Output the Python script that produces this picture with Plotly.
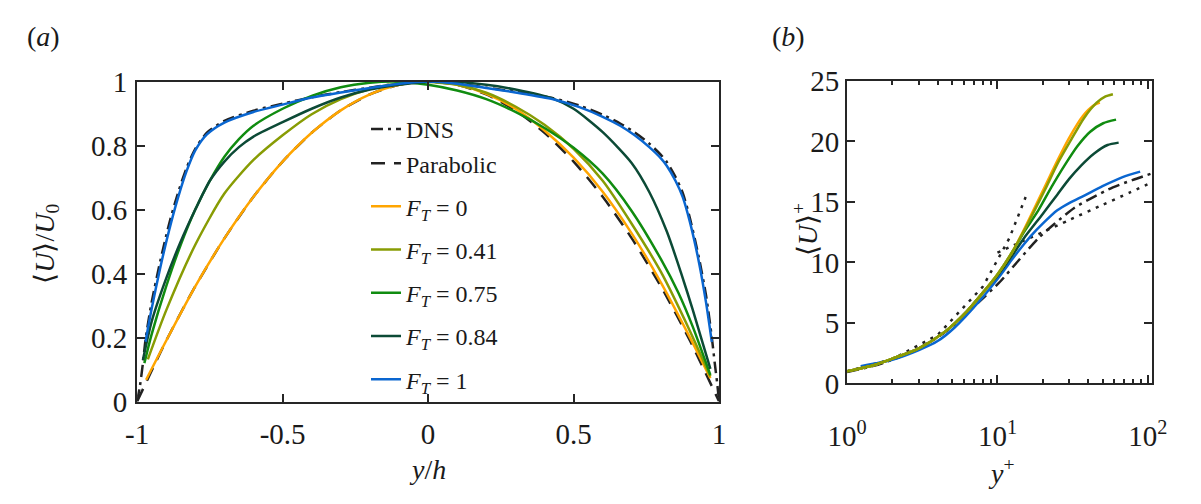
import plotly.graph_objects as go

# ---------------- Panel (a) data: <U>/U0 vs y/h ----------------
dns_y = [-1, -0.99, -0.98, -0.97, -0.95, -0.92, -0.89, -0.86, -0.83, -0.8, -0.76, -0.7, -0.6, -0.5, -0.4,
         -0.3, -0.2, -0.1, 0, 0.1, 0.2, 0.3, 0.43, 0.52, 0.6, 0.66, 0.71, 0.76, 0.8, 0.82, 0.85, 0.875,
         0.9, 0.93, 0.955, 0.975, 0.985, 0.993, 1]
dns_u = [0, 0.05, 0.12, 0.2, 0.31, 0.44, 0.555, 0.65, 0.73, 0.79, 0.84, 0.877, 0.909, 0.931, 0.951,
         0.967, 0.981, 0.994, 1.0, 0.994, 0.981, 0.968, 0.948, 0.925, 0.896, 0.869, 0.841, 0.806, 0.771,
         0.749, 0.702, 0.652, 0.572, 0.452, 0.332, 0.2, 0.12, 0.06, 0]

par_y = [-1, -0.9, -0.8, -0.7, -0.6, -0.5, -0.4, -0.3, -0.2, -0.1, 0, 0.1, 0.2, 0.3, 0.4, 0.5, 0.6, 0.7,
         0.8, 0.9, 1]
par_u = [0, 0.19, 0.36, 0.51, 0.64, 0.75, 0.84, 0.91, 0.96, 0.99, 1.0, 0.99, 0.96, 0.91, 0.84, 0.75, 0.64,
         0.51, 0.36, 0.19, 0]

f0_y = [-0.969, -0.9, -0.8, -0.7, -0.6, -0.5, -0.4, -0.3, -0.2, -0.1, 0, 0.1, 0.2, 0.3, 0.4, 0.5, 0.6,
        0.7, 0.8, 0.9, 0.97]
f0_u = [0.068, 0.19, 0.36, 0.51, 0.64, 0.75, 0.84, 0.91, 0.96, 0.99, 1.0, 0.99, 0.962, 0.915, 0.847,
        0.762, 0.656, 0.525, 0.372, 0.2, 0.073]

f41_y = [-0.963, -0.9, -0.8, -0.7, -0.6, -0.5, -0.4, -0.3, -0.2, -0.1, -0.02, 0.1, 0.2, 0.3,
         0.4, 0.5, 0.6, 0.7, 0.8, 0.9, 0.97]
f41_u = [0.132, 0.285, 0.49, 0.65, 0.755, 0.832, 0.898, 0.945, 0.977, 0.995, 1.0, 0.99, 0.965,
         0.922, 0.865, 0.79, 0.69, 0.555, 0.405, 0.22, 0.078]

f75_y = [-0.975, -0.95, -0.9, -0.85, -0.8, -0.75, -0.7, -0.65, -0.6, -0.5, -0.4, -0.3, -0.2, -0.12,
         0, 0.1, 0.2, 0.3, 0.4, 0.5, 0.6, 0.7, 0.8, 0.86, 0.909, 0.97]
f75_u = [0.12, 0.21, 0.36, 0.49, 0.6, 0.69, 0.765, 0.82, 0.862, 0.915, 0.955, 0.982, 0.996, 1.0,
         0.99, 0.972, 0.945, 0.905, 0.855, 0.793, 0.712, 0.595, 0.445, 0.34, 0.235, 0.083]

f84_y = [-0.98, -0.95, -0.9, -0.85, -0.8, -0.75, -0.7, -0.65, -0.6, -0.5, -0.4, -0.3, -0.2, -0.1, 0.05,
         0.2, 0.3, 0.431, 0.5, 0.6, 0.7, 0.76, 0.82, 0.87, 0.909, 0.97]
f84_u = [0.13, 0.25, 0.385, 0.5, 0.6, 0.69, 0.75, 0.795, 0.828, 0.873, 0.915, 0.95, 0.975, 0.99, 1.0,
         0.99, 0.975, 0.946, 0.915, 0.842, 0.745, 0.655, 0.532, 0.4, 0.288, 0.102]

f1_y = [-0.971, -0.95, -0.92, -0.89, -0.86, -0.83, -0.8, -0.76, -0.7, -0.6, -0.5, -0.4, -0.3, -0.2,
        -0.1, 0, 0.1, 0.2, 0.3, 0.43, 0.52, 0.6, 0.66, 0.71, 0.76, 0.8, 0.82, 0.85, 0.875, 0.9, 0.931,
        0.955, 0.975]
f1_u = [0.187, 0.29, 0.42, 0.535, 0.635, 0.72, 0.785, 0.835, 0.872, 0.905, 0.928, 0.95, 0.966, 0.98,
        0.993, 1.0, 0.993, 0.98, 0.966, 0.945, 0.92, 0.89, 0.862, 0.832, 0.795, 0.76, 0.737, 0.69, 0.639,
        0.56, 0.434, 0.31, 0.186]

# ---------------- Panel (b) data: <U>+ vs y+ ----------------
lin_yp = [1, 2, 4, 8, 12, 15.4]
lin_up = [1, 2, 4, 8, 12, 15.4]
log_yp = [10, 15, 20, 30, 50, 75, 106]
log_up = [10.8, 11.8, 12.5, 13.5, 14.75, 15.75, 16.6]

dnsb_yp = [1, 1.5, 2, 3, 4, 5, 6.5, 8.1, 10.4, 13.9, 18.7, 24, 32.4, 43.5, 58.6, 78.9, 106]
dnsb_up = [0.95, 1.45, 1.95, 2.9, 3.8, 4.7, 6.0, 7.1, 8.4, 10.2, 12.0, 13.2, 14.5, 15.4, 16.2, 16.8, 17.35]

b0_yp = [1, 1.5, 2, 3, 4.5, 6.3, 8, 10, 12.6, 15, 20, 25, 30, 37, 44, 48]
b0_up = [1.0, 1.5, 2.05, 2.9, 4.3, 6.0, 7.5, 9.0, 10.9, 12.7, 15.9, 18.4, 20.3, 22.1, 23.0, 23.2]

b41_yp = [1, 1.5, 2, 3, 4.5, 6.3, 8, 10, 12.6, 15, 17, 20.7, 25.2, 30.8, 37.5, 45.7, 52, 58.6]
b41_up = [1.0, 1.5, 2.05, 2.9, 4.3, 6.0, 7.5, 9.0, 10.9, 12.6, 13.9, 16.0, 18.2, 20.1, 21.9, 23.2, 23.7,
          23.9]

b75_yp = [1, 1.5, 2, 3, 4.5, 6.3, 8, 10, 12.6, 15, 18.7, 22.8, 27.9, 34, 41.4, 50.5, 61.5]
b75_up = [1.0, 1.5, 2.05, 2.9, 4.3, 6.0, 7.5, 9.0, 10.9, 12.5, 14.3, 16.2, 18.0, 19.6, 20.8, 21.5, 21.8]

b84_yp = [1, 1.5, 2, 3, 4.5, 6.3, 8, 10, 12.6, 15, 20, 25, 30, 36, 44, 54, 64]
b84_up = [1.0, 1.5, 2.05, 2.9, 4.3, 6.0, 7.5, 8.9, 10.6, 12.0, 14.0, 15.6, 16.9, 18.0, 19.0, 19.7, 19.9]

b1_yp = [1.23, 2, 3, 4, 5.17, 7.7, 10.4, 12.6, 15, 17, 20, 25, 30, 37.5, 50, 68, 89]
b1_up = [1.42, 1.95, 2.75, 3.5, 4.6, 6.9, 8.9, 10.3, 11.5, 12.3, 13.2, 14.3, 14.9, 15.5, 16.3, 17.05, 17.5]

xa_ticks = [-1, -0.5, 0, 0.5, 1]
xa_text = ["-1", "-0.5", "0", "0.5", "1"]
ya_ticks = [0, 0.2, 0.4, 0.6, 0.8, 1]
ya_text = ["0", "0.2", "0.4", "0.6", "0.8", "1"]
xb_ticks = [1, 10, 100]
xb_text = ["10<sup>0</sup>", "10<sup>1</sup>", "10<sup>2</sup>"]
xb_minor = [2, 3, 4, 5, 6, 7, 8, 9, 20, 30, 40, 50, 60, 70, 80, 90]
yb_ticks = [0, 5, 10, 15, 20, 25]

C_ORANGE = "#FFA500"
C_OLIVE = "#889C04"
C_GREEN = "#108C10"
C_DKGREEN = "#0C4A36"
C_BLUE = "#0A66D0"
C_BLACK = "#222222"

FONT = "Liberation Serif"
LW = 2.5
SPL = dict(shape="spline", smoothing=0.7)

def ft(v):
    return "<i>F</i><sub><i>T</i></sub> = " + v

fig = go.Figure()

# panel (a)
fig.add_trace(go.Scatter(x=dns_y, y=dns_u, mode="lines", name="DNS", legendgroup="g0",
                         line=dict(color=C_BLACK, width=LW, dash="12px,5px,3px,5px", **SPL),
                         xaxis="x", yaxis="y"))
fig.add_trace(go.Scatter(x=par_y, y=par_u, mode="lines", name="Parabolic", legendgroup="g0",
                         line=dict(color=C_BLACK, width=LW, dash="14px,9px", **SPL), xaxis="x", yaxis="y"))
for i, (xs, ys, c, lab) in enumerate([(f0_y, f0_u, C_ORANGE, "0"), (f41_y, f41_u, C_OLIVE, "0.41"),
                                      (f75_y, f75_u, C_GREEN, "0.75"), (f84_y, f84_u, C_DKGREEN, "0.84"),
                                      (f1_y, f1_u, C_BLUE, "1")]):
    fig.add_trace(go.Scatter(x=xs, y=ys, mode="lines", name=ft(lab), legendgroup="g%d" % (i + 1),
                             line=dict(color=c, width=LW, **SPL), xaxis="x", yaxis="y"))

# panel (b)
fig.add_trace(go.Scatter(x=lin_yp, y=lin_up, mode="lines", showlegend=False,
                         line=dict(color=C_BLACK, width=LW, dash="3px,6px"), xaxis="x2", yaxis="y2"))
fig.add_trace(go.Scatter(x=log_yp, y=log_up, mode="lines", showlegend=False,
                         line=dict(color=C_BLACK, width=LW, dash="3px,6px", **SPL), xaxis="x2", yaxis="y2"))
fig.add_trace(go.Scatter(x=dnsb_yp, y=dnsb_up, mode="lines", showlegend=False,
                         line=dict(color=C_BLACK, width=LW, dash="12px,5px,3px,5px", **SPL),
                         xaxis="x2", yaxis="y2"))
for xs, ys, c in [(b1_yp, b1_up, C_BLUE), (b84_yp, b84_up, C_DKGREEN), (b75_yp, b75_up, C_GREEN),
                  (b0_yp, b0_up, C_ORANGE), (b41_yp, b41_up, C_OLIVE)]:
    fig.add_trace(go.Scatter(x=xs, y=ys, mode="lines", showlegend=False,
                             line=dict(color=c, width=LW, **SPL), xaxis="x2", yaxis="y2"))

axis_common = dict(showline=True, linecolor="#262626", linewidth=2, mirror="ticks", ticks="inside",
                   ticklen=8, tickwidth=1.5, tickcolor="#262626", showgrid=False, zeroline=False,
                   tickfont=dict(family=FONT, size=29, color="#1a1a1a"))

fig.update_layout(
    width=1201, height=504,
    margin=dict(l=0, r=0, t=0, b=0),
    paper_bgcolor="white", plot_bgcolor="white",
    font=dict(family=FONT, size=26, color="#1a1a1a"),
    xaxis=dict(domain=[0.1005, 0.6001], range=[-1, 1], tickvals=xa_ticks, ticktext=xa_text,
               anchor="y", ticklabelstandoff=6, **axis_common),
    yaxis=dict(domain=[0.1831, 0.8611], range=[0, 1], tickvals=ya_ticks, ticktext=ya_text,
               anchor="x", ticklabelstandoff=2, **axis_common),
    xaxis2=dict(domain=[0.7100, 0.9714], type="log", range=[0, 2.026], tickvals=xb_ticks, ticktext=xb_text,
                anchor="y2", ticklabelstandoff=26,
                minor=dict(ticks="inside", ticklen=4, tickvals=xb_minor, tickcolor="#262626"),
                **axis_common),
    yaxis2=dict(domain=[0.2216, 0.8625], range=[0, 25], tickvals=yb_ticks, anchor="x2",
                ticklabelstandoff=0, **axis_common),
    legend=dict(x=0.297, y=1 - 97 / 504, xanchor="left", yanchor="top", bgcolor="rgba(0,0,0,0)",
                font=dict(family=FONT, size=24, color="#1a1a1a"), tracegroupgap=9,
                traceorder="grouped"),
    annotations=[
        dict(text="(<i>a</i>)", x=5 / 1201, y=1 - 22 / 504, xref="paper", yref="paper", xanchor="left",
             yanchor="middle", showarrow=False, font=dict(family=FONT, size=28)),
        dict(text="(<i>b</i>)", x=773 / 1201, y=1 - 22 / 504, xref="paper", yref="paper", xanchor="left",
             yanchor="middle", showarrow=False, font=dict(family=FONT, size=28)),
        dict(text="<i>y</i>/<i>h</i>", x=420 / 1201, y=1 - 484 / 504, xref="paper", yref="paper",
             xanchor="center", yanchor="middle", showarrow=False, font=dict(family=FONT, size=28)),
        dict(text="⟨<i>U</i>⟩/<i>U</i><sub>0</sub>", x=27 / 1201, y=1 - 243 / 504, xref="paper",
             yref="paper", xanchor="center", yanchor="middle", showarrow=False, textangle=-90,
             font=dict(family=FONT, size=28)),
        dict(text="<i>y</i><sup>+</sup>", x=1012 / 1201, y=1 - 486 / 504, xref="paper", yref="paper",
             xanchor="center", yanchor="middle", showarrow=False, font=dict(family=FONT, size=28)),
        dict(text="⟨<i>U</i>⟩<sup>+</sup>", x=810 / 1201, y=1 - 228 / 504, xref="paper", yref="paper",
             xanchor="center", yanchor="middle", showarrow=False, textangle=-90,
             font=dict(family=FONT, size=28)),
    ],
)

fig.write_html("out.html")
